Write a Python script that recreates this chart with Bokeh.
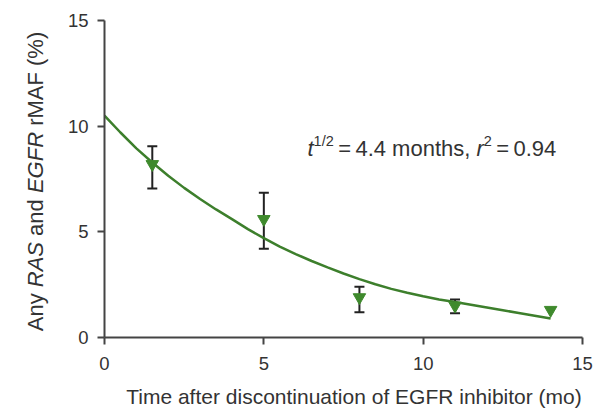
import math
from bokeh.plotting import figure
from bokeh.layouts import row, column
from bokeh.models import Range1d, ColumnDataSource, Whisker, TeeHead, FixedTicker
from bokeh.core.properties import value
from bokeh.embed import file_html
from bokeh.resources import INLINE

# ---- data ----
time_mo = [1.5, 5, 8, 11, 14]
rmaf_pct = [8.2, 5.6, 1.9, 1.5, 1.3]
err_time = [1.5, 5, 8, 11]
err_upper = [9.05, 6.85, 2.4, 1.8]
err_lower = [7.05, 4.2, 1.2, 1.15]
fit_time = [0, 0.5, 1, 1.5, 2, 2.5, 3, 3.5, 4, 4.5, 5, 5.5, 6, 6.5, 7, 7.5,
            8, 8.5, 9, 9.5, 10, 10.5, 11, 11.5, 12, 12.5, 13, 13.5, 14]
fit_rmaf = [10.5, 9.7, 8.95, 8.28, 7.65, 7.08, 6.55, 6.06, 5.6, 5.13, 4.7, 4.3,
            3.95, 3.62, 3.32, 3.03, 2.76, 2.52, 2.3, 2.12, 1.95, 1.8, 1.68, 1.55,
            1.42, 1.29, 1.16, 1.03, 0.9]
x_ticks = [0, 5, 10, 15]
y_ticks = [0, 5, 10, 15]
x_title = "Time after discontinuation of EGFR inhibitor (mo)"
y_title_parts = [("Any ", "normal"), ("RAS", "italic"), (" and ", "normal"),
                 ("EGFR", "italic"), (" rMAF (%)", "normal")]
note_parts = [("t", "italic", False), ("1/2", "normal", True), ("\u2009=\u2009", "normal", False),
              ("4.4 months, ", "normal", False), ("r", "italic", False), ("2", "normal", True),
              ("\u2009=\u2009", "normal", False), ("0.94", "normal", False)]

FONT = "Liberation Sans"
TXT = "#333333"
AXC = "#444444"
GREEN_LINE = "#3d7f2c"
GREEN_MARK = "#3f8a2d"

# layout (pixels)
TOTAL_W, TOTAL_H = 597, 411
LEFT_W = 60            # panel holding the y title
BOTTOM_H = 33          # panel holding the x title
BL, BR, BT = 44, 15, 20
FW, FH = 478, 317
BB = TOTAL_H - BOTTOM_H - BT - FH
XMAX, YMAX = 15, 15
px_x = FW / XMAX
px_y = FH / YMAX

W = {' ': .278, 'A': .667, 'n': .556, 'y': .5, 'R': .722, 'S': .667, 'a': .556, 'd': .556,
     'E': .667, 'G': .778, 'F': .611, 'r': .333, 'M': .833, '(': .333, '%': .889, ')': .333,
     't': .278, '1': .556, '/': .278, '2': .556, '=': .584, '4': .556, '.': .278, 'm': .833,
     'o': .556, 'h': .556, 's': .5, ',': .278, '0': .556, '9': .556, '\u2009': .2}


def tw(s, size):
    return sum(W.get(c, .556) for c in s) * size


def blank(w, h, fw, left=0):
    f = figure(width=w, height=h, frame_width=fw, frame_height=h,
               x_range=Range1d(0, fw), y_range=Range1d(0, h),
               min_border=0, min_border_left=left,
               output_backend="svg", toolbar_location=None)
    f.axis.visible = False
    f.grid.visible = False
    f.outline_line_color = None
    f.border_fill_color = "white"
    return f


# ---- main plot ----
p = figure(width=TOTAL_W - LEFT_W, height=TOTAL_H - BOTTOM_H, frame_width=FW, frame_height=FH,
           min_border_left=BL, min_border_right=BR, min_border_top=BT, min_border_bottom=BB,
           x_range=Range1d(0, XMAX), y_range=Range1d(0, YMAX),
           output_backend="svg", toolbar_location=None)
p.outline_line_color = None
p.grid.visible = False
p.border_fill_color = "white"

for ax, ticks in ((p.xaxis[0], x_ticks), (p.yaxis[0], y_ticks)):
    ax.ticker = FixedTicker(ticks=ticks)
    ax.minor_tick_line_color = None
    ax.major_tick_in = 0
    ax.major_tick_out = 7
    ax.axis_line_width = 2
    ax.major_tick_line_width = 2
    ax.axis_line_color = AXC
    ax.major_tick_line_color = AXC
    ax.major_label_text_font = FONT
    ax.major_label_text_font_size = "18.5px"
    ax.major_label_text_color = TXT
p.xaxis.major_label_standoff = 12
p.yaxis.major_label_standoff = 9

p.line(fit_time, fit_rmaf, line_color=GREEN_LINE, line_width=2.5)

esrc = ColumnDataSource(dict(x=err_time, up=err_upper, lo=err_lower))
p.add_layout(Whisker(source=esrc, base="x", upper="up", lower="lo", dimension="height",
                     line_color="#222222", line_width=2,
                     upper_head=TeeHead(size=10, line_color="#222222", line_width=2),
                     lower_head=TeeHead(size=10, line_color="#222222", line_width=2)))

p.scatter(time_mo, rmaf_pct, marker="inverted_triangle", size=12.5,
          fill_color=GREEN_MARK, line_color=GREEN_MARK)

# annotation with italic letters and superscripts
big, small = 22, 14.5
x0_px, base_px = 307 - LEFT_W - BL, 148 - BT
xs, offs, yoffs, texts, styles, sizes = [], [], [], [], [], []
cur = 0.0
for t, st, sup in note_parts:
    fs = small if sup else big
    lead = len(t) - len(t.lstrip(" "))
    texts.append(t.strip(" "))
    styles.append(st)
    sizes.append(f"{fs}px")
    offs.append(cur + tw(" " * lead, fs))
    yoffs.append(-8 if sup else 0)
    xs.append(x0_px / px_x)
    cur += tw(t, fs)
ny = (FH - base_px) / px_y
nsrc = ColumnDataSource(dict(x=xs, y=[ny] * len(xs), text=texts, xo=offs, yo=yoffs,
                             st=styles, fs=sizes))
p.text(x="x", y="y", text="text", x_offset="xo", y_offset="yo", text_font_style="st",
       text_font_size="fs", text_font=value(FONT), text_color=TXT,
       text_align="left", text_baseline="alphabetic", source=nsrc)

# ---- y title panel (mixed italic, rotated) ----
yp = blank(LEFT_W, TOTAL_H, LEFT_W)
ysz = 22
total = sum(tw(t, ysz) for t, _ in y_title_parts)
start_from_top = 181 + total / 2
ys, texts, styles = [], [], []
cur = 0.0
for t, st in y_title_parts:
    lead = len(t) - len(t.lstrip(" "))
    ys.append(TOTAL_H - (start_from_top - cur - tw(" " * lead, ysz)))
    texts.append(t.strip(" "))
    styles.append(st)
    cur += tw(t, ysz)
ysrc = ColumnDataSource(dict(x=[35] * len(ys), y=ys, text=texts, st=styles))
yp.text(x="x", y="y", text="text", text_font_style="st", angle=math.pi / 2,
        text_font=value(FONT), text_font_size=f"{ysz}px", text_color=TXT,
        text_align="left", text_baseline="middle", source=ysrc)

# ---- x title panel (frame aligned with the main plot's frame) ----
XP_FW = TOTAL_W - LEFT_W - BL
xp = blank(TOTAL_W - LEFT_W, BOTTOM_H, XP_FW, left=BL)
xp.text(x=[353.5 - LEFT_W - BL], y=[BOTTOM_H / 2 - 1], text=[x_title],
        text_font=value(FONT), text_font_size="21px", text_color=TXT,
        text_align="center", text_baseline="middle")

layout = row(yp, column(p, xp, spacing=0), spacing=0)
open("out.html", "w").write(file_html(layout, INLINE))
